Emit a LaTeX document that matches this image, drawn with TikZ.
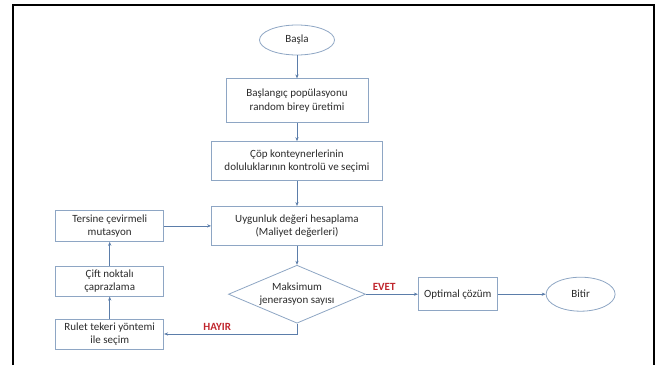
\documentclass[tikz,border=0pt]{standalone}
\usepackage{fontspec}
\setmainfont{Carlito}
\usetikzlibrary{arrows.meta,positioning,shapes.geometric}
\definecolor{GaEdge}{HTML}{8EA6C4}
\definecolor{GaLine}{HTML}{5B7DAA}
\definecolor{GaText}{HTML}{2B2B2B}
\definecolor{GaRed}{HTML}{C0262D}
\tikzset{
  procbox/.style={draw=GaEdge,line width=0.8pt,align=center,inner sep=2pt,font=\fontsize{11}{13.5}\selectfont,text=GaText,fill=white},
  termnode/.style={ellipse,draw=GaEdge,line width=0.8pt,align=center,inner sep=1pt,font=\fontsize{11}{13.5}\selectfont,text=GaText,fill=white},
  decnode/.style={diamond,aspect=2.36,draw=GaEdge,line width=0.8pt,align=center,inner sep=0pt,font=\fontsize{11}{13.5}\selectfont,text=GaText,fill=white},
  flowarrow/.style={-{Stealth[length=4pt,width=3.2pt]},line width=0.7pt,draw=GaLine},
  branchlabel/.style={font=\fontsize{11}{13.5}\selectfont\bfseries,text=GaRed,inner sep=1pt}
}

\begin{document}
\begin{tikzpicture}[x=1pt,y=1pt]
\useasboundingbox (0,0) rectangle (660,365);
% frame
\draw[line width=2.2pt] (13,0) -- (13,360) -- (654,360) -- (654,0);

\node[termnode,minimum width=75pt,minimum height=30pt] (start) at (297,325) {Başla};
\node[procbox,below=23pt of start,minimum width=142pt,minimum height=44pt] (init) {Başlangıç popülasyonu\\random birey üretimi};
\node[procbox,below=18pt of init,minimum width=171pt,minimum height=39pt] (check) {Çöp konteynerlerinin\\doluluklarının kontrolü ve seçimi};
\node[procbox,below=25pt of check,minimum width=171pt,minimum height=39pt] (fit) {Uygunluk değeri hesaplama\\(Maliyet değerleri)};
\node[decnode,below=19pt of fit,minimum width=137pt,minimum height=58pt] (maxgen) {Maksimum\\jenerasyon sayısı};
\node[procbox,right=52pt of maxgen,minimum width=79pt,minimum height=33pt] (opt) {Optimal çözüm};
\node[termnode,right=48pt of opt,minimum width=69pt,minimum height=34pt] (stop) {Bitir};

\node[procbox,left=47pt of fit,minimum width=108pt,minimum height=31pt] (mut) {Tersine çevirmeli\\mutasyon};
\node[procbox,below=24pt of mut,minimum width=108pt,minimum height=30pt] (cross) {Çift noktalı\\çaprazlama};
\node[procbox,below=22pt of cross,minimum width=108pt,minimum height=30pt] (sel) {Rulet tekeri yöntemi\\ile seçim};

\draw[flowarrow] (start) -- (init);
\draw[flowarrow] (init) -- (check);
\draw[flowarrow] (check) -- (fit);
\draw[flowarrow] (fit) -- (maxgen);
\draw[flowarrow] (maxgen.east) -- node[branchlabel,pos=0.35,above=2pt]{EVET} (opt.west);
\draw[flowarrow] (opt) -- (stop);
\draw[flowarrow] (maxgen.south) |- node[branchlabel,pos=0.8,above=2pt]{HAYIR} (sel.east);
\draw[flowarrow] (sel) -- (cross);
\draw[flowarrow] (cross) -- (mut);
\draw[flowarrow] (mut) -- (fit);
\end{tikzpicture}
\end{document}
